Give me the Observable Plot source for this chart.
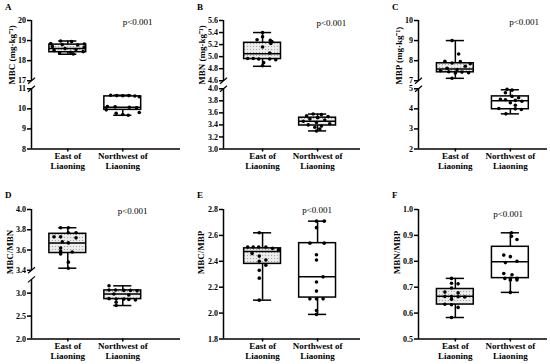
<!DOCTYPE html>
<html><head><meta charset="utf-8">
<script src="https://cdn.jsdelivr.net/npm/d3@7"></script>
<script src="https://cdn.jsdelivr.net/npm/@observablehq/plot@0.6"></script>
<style>
body{margin:0;background:#fff}
#fig{position:relative;width:550px;height:364px;overflow:hidden;background:#fff}
.panel{position:absolute}
</style>
</head><body><div id="fig"></div>
<script>
// ---------- data ----------
const categories = ["East of Liaoning", "Northwest of Liaoning"];
const panelLetters = ["A", "B", "C", "D", "E", "F"];
const yLabels = ["MBC (mg·kg⁻¹)", "MBN (mg·kg⁻¹)", "MBP (mg·kg⁻¹)", "MBC/MBN", "MBC/MBP", "MBN/MBP"];
const pLabel = "p<0.001";

// tick labels
const ticksA = [8, 9, 10, 11, 17, 18, 19, 20];
const ticksB = [3.0, 3.2, 3.4, 3.6, 3.8, 4.0, 4.6, 4.8, 5.0, 5.2, 5.4, 5.6];
const ticksC = [2, 3, 4, 5, 7, 8, 9, 10];
const ticksD = [2.0, 2.5, 3.0, 3.4, 3.6, 3.8, 4.0];
const ticksE = [1.8, 2.0, 2.2, 2.4, 2.6, 2.8];
const ticksF = [0.5, 0.6, 0.7, 0.8, 0.9, 1.0];

// box summaries [min, q1, median, q3, max]
const mbcEastBox = [18.32, 18.42, 18.60, 18.80, 18.98];
const mbcNwBox   = [9.68, 9.95, 10.08, 10.62, 10.68];
const mbnEastBox = [4.84, 4.96, 5.05, 5.23, 5.40];
const mbnNwBox   = [3.30, 3.39, 3.46, 3.52, 3.58];
const mbpEastBox = [7.12, 7.42, 7.58, 7.87, 9.00];
const mbpNwBox   = [3.75, 3.98, 4.40, 4.62, 4.95];
const cnEastBox  = [3.42, 3.57, 3.67, 3.76, 3.82];
const cnNwBox    = [2.73, 2.87, 2.98, 3.06, 3.16];
const cpEastBox  = [2.10, 2.38, 2.475, 2.50, 2.62];
const cpNwBox    = [1.99, 2.12, 2.28, 2.54, 2.71];
const npEastBox  = [0.583, 0.633, 0.665, 0.693, 0.734];
const npNwBox    = [0.68, 0.735, 0.798, 0.856, 0.91];

// individual samples and their horizontal scatter (category units)
const mbcEast = [18.98, 18.95, 18.85, 18.83, 18.80, 18.78, 18.70, 18.65, 18.60, 18.55, 18.50, 18.45, 18.42, 18.38, 18.33];
const mbcEastJit = [-0.13, 0.07, -0.31, 0.30, -0.10, 0.18, -0.28, 0.30, -0.05, 0.15, -0.25, 0.28, 0.05, -0.15, 0.10];
const mbcNw = [10.68, 10.66, 10.65, 10.66, 10.64, 10.60, 10.12, 10.10, 10.08, 10.05, 9.95, 9.82, 9.78, 9.72, 9.68];
const mbcNwJit = [-0.22, -0.11, 0, 0.11, 0.22, 0.30, -0.28, -0.14, 0.12, 0.25, -0.30, 0.30, -0.12, 0, 0.10];

const mbnEast = [5.40, 5.33, 5.28, 5.27, 5.25, 5.22, 5.16, 5.06, 4.97, 4.97, 4.96, 4.96, 4.95, 4.90, 4.85];
const mbnEastJit = [0, 0, -0.10, 0.14, 0.17, 0.15, 0, 0.13, -0.27, -0.17, -0.07, 0.13, 0.24, 0.02, 0];
const mbnNw = [3.58, 3.57, 3.55, 3.54, 3.52, 3.50, 3.48, 3.46, 3.44, 3.42, 3.40, 3.38, 3.36, 3.33, 3.30];
const mbnNwJit = [-0.08, 0.07, -0.20, 0.19, 0, -0.14, 0.13, -0.26, -0.02, 0.22, -0.17, 0.07, -0.05, 0.04, -0.02];

const mbpEast = [9.00, 8.33, 7.97, 7.95, 7.88, 7.85, 7.72, 7.62, 7.55, 7.50, 7.45, 7.43, 7.40, 7.38, 7.12];
const mbpEastJit = [-0.06, 0.06, -0.19, 0.09, -0.06, 0.27, 0.18, -0.15, 0.03, -0.27, -0.12, 0.12, 0.24, 0, -0.06];
const mbpNw = [4.97, 4.93, 4.80, 4.62, 4.55, 4.47, 4.45, 4.42, 4.38, 4.30, 4.18, 4.02, 4.00, 3.97, 3.75];
const mbpNwJit = [-0.06, 0.03, -0.09, 0.03, 0.15, -0.18, -0.09, 0.09, 0.21, 0, 0.09, -0.21, 0.09, 0.20, -0.08];

const cnEast = [3.82, 3.82, 3.77, 3.77, 3.73, 3.73, 3.72, 3.68, 3.67, 3.62, 3.59, 3.58, 3.56, 3.48, 3.42];
const cnEastJit = [-0.13, 0.01, 0.01, 0.15, -0.25, -0.13, 0.15, -0.10, 0.01, -0.13, -0.13, 0.08, -0.13, 0.01, 0.01];
const cnNw = [3.16, 3.07, 3.07, 3.06, 3.06, 3.05, 2.98, 2.96, 2.88, 2.87, 2.87, 2.86, 2.85, 2.80, 2.73];
const cnNwJit = [-0.25, -0.25, -0.13, 0.02, 0.14, 0.26, -0.16, 0.11, -0.25, -0.12, 0.02, 0.11, 0.23, -0.12, -0.12];

const cpEast = [2.62, 2.51, 2.51, 2.51, 2.51, 2.50, 2.49, 2.46, 2.44, 2.41, 2.40, 2.37, 2.33, 2.27, 2.10];
const cpEastJit = [-0.06, -0.27, -0.17, -0.07, 0.06, 0.18, 0.29, -0.19, -0.06, 0.06, -0.06, 0.06, -0.06, -0.06, -0.06];
const cpNw = [2.71, 2.71, 2.66, 2.54, 2.54, 2.45, 2.41, 2.28, 2.24, 2.17, 2.11, 2.11, 2.11, 2.02, 1.99];
const cpNwJit = [-0.02, 0.12, -0.02, -0.14, 0.12, -0.02, -0.02, 0.10, -0.02, -0.02, -0.14, -0.02, 0.10, -0.02, -0.02];

const npEast = [0.734, 0.715, 0.713, 0.697, 0.681, 0.678, 0.664, 0.664, 0.663, 0.662, 0.653, 0.634, 0.632, 0.622, 0.583];
const npEastJit = [-0.07, -0.07, 0.05, -0.07, -0.19, 0.05, -0.19, -0.07, 0.05, 0.17, -0.07, -0.19, -0.07, 0.05, -0.07];
const npNw = [0.910, 0.897, 0.884, 0.824, 0.818, 0.800, 0.795, 0.753, 0.748, 0.734, 0.734, 0.734, 0.728, 0.728, 0.680];
const npNwJit = [0.02, 0.02, 0.12, -0.12, 0, 0.12, -0.09, -0.12, 0.03, -0.10, 0, 0.12, 0, 0.12, 0];

// ---------- panel configuration (layout + axis breaks) ----------
const TOP = {top: 0, height: 182, mt: 20, mb: 33.5};
const BOT = {top: 182, height: 182, mt: 27, mb: 25.5};
const panels = [
  {row: TOP, left: 0,   ml: 31, mr: 4, x0: -0.66, x1: 2.05, ticks: ticksA, dec: 0, brk: {lowTop: 11, highBottom: 17, gap: 0.4, k: 1},
   east: [mbcEast, mbcEastJit, mbcEastBox], nw: [mbcNw, mbcNwJit, mbcNwBox], nwPattern: false, labelDx: -19, pX: 1.27, pDy: 2},
  {row: TOP, left: 183, ml: 40, mr: 7, x0: -0.71, x1: 1.78, ticks: ticksB, dec: 1, brk: {lowTop: 4.0, highBottom: 4.6, gap: 0.133, k: 1},
   east: [mbnEast, mbnEastJit, mbnEastBox], nw: [mbnNw, mbnNwJit, mbnNwBox], nwPattern: true, labelDx: -21.5, pX: 1.25, pDy: 2.5},
  {row: TOP, left: 366, ml: 52, mr: 3, x0: -0.67, x1: 1.675, ticks: ticksC, dec: 0, brk: {lowTop: 5, highBottom: 7, gap: 0.4, k: 1},
   east: [mbpEast, mbpEastJit, mbpEastBox], nw: [mbpNw, mbpNwJit, mbpNwBox], nwPattern: false, labelDx: -19, pX: 1.25, pDy: 2},
  {row: BOT, left: 0,   ml: 31, mr: 4, x0: -0.66, x1: 2.05, ticks: ticksD, dec: 1, brk: {lowTop: 3.3, highBottom: 3.4, gap: 0.2, k: 2.208},
   east: [cnEast, cnEastJit, cnEastBox], nw: [cnNw, cnNwJit, cnNwBox], nwPattern: true, labelDx: -21.5, pX: 1.18, pDy: 2},
  {row: BOT, left: 183, ml: 40, mr: 7, x0: -0.71, x1: 1.78, ticks: ticksE, dec: 1, brk: null,
   east: [cpEast, cpEastJit, cpEastBox], nw: [cpNw, cpNwJit, cpNwBox], nwPattern: false, labelDx: -22.5, pX: 0.99, pDy: 1},
  {row: BOT, left: 366, ml: 52, mr: 3, x0: -0.67, x1: 1.675, ticks: ticksF, dec: 1, brk: null,
   east: [npEast, npEastJit, npEastBox], nw: [npNw, npNwJit, npNwBox], nwPattern: false, labelDx: -21.5, pX: 0.96, pDy: 5}
];

const FONT = "'Liberation Serif', 'Times New Roman', Times, serif";
const fig = document.getElementById("fig");
const HALF_BOX = 0.335, HALF_CAP = 0.165;

panels.forEach((cfg, idx) => {
  const b = cfg.brk;
  const f = b ? (v => v <= b.lowTop ? v : b.lowTop + b.gap + (v - b.highBottom) * b.k) : (v => v);
  const inv = b ? (d => d <= b.lowTop + 1e-9 ? d : b.highBottom + (d - b.lowTop - b.gap) / b.k) : (d => d);
  const W = 184, H = cfg.row.height;
  const dMin = f(cfg.ticks[0]), dMax = f(cfg.ticks[cfg.ticks.length - 1]);
  const pxY = (H - cfg.row.mt - cfg.row.mb) / (dMax - dMin);
  const pxX = (W - cfg.ml - cfg.mr) / (cfg.x1 - cfg.x0);
  const patId = "dots" + idx;

  const groups = [cfg.east, cfg.nw];
  const points = [];
  groups.forEach((g, i) => g[0].forEach((v, j) => points.push({i, v, j: g[1][j]})));
  const boxes = groups.map((g, i) => ({i, min: g[2][0], q1: g[2][1], med: g[2][2], q3: g[2][3], max: g[2][4],
    pattern: i === 0 || cfg.nwPattern}));
  const caps = boxes.flatMap(d => [{i: d.i, y: d.min}, {i: d.i, y: d.max}]);
  const segs = b ? [[dMin, b.lowTop], [f(b.highBottom), dMax]] : [[dMin, dMax]];
  const slashes = b ? [b.lowTop, f(b.highBottom)] : [];
  const sx = 3.5 / pxX, sy = 3 / pxY;

  const plot = Plot.plot({
    width: W, height: H,
    marginLeft: cfg.ml, marginRight: cfg.mr, marginTop: cfg.row.mt, marginBottom: cfg.row.mb,
    x: {domain: [cfg.x0, cfg.x1]},
    y: {domain: [dMin, dMax]},
    style: {fontFamily: FONT, fontSize: "9px", color: "#000", background: "transparent", overflow: "visible"},
    marks: [
      // axis lines (with break)
      Plot.ruleX(segs, {x: cfg.x0, y1: d => d[0], y2: d => d[1], stroke: "#000", strokeWidth: 1.5}),
      Plot.link(slashes, {x1: cfg.x0 - sx, x2: cfg.x0 + sx, y1: d => d - sy, y2: d => d + sy, stroke: "#000", strokeWidth: 1.2}),
      Plot.ruleY([dMin], {stroke: "#000", strokeWidth: 1.5}),
      Plot.axisY(cfg.ticks.map(f), {tickFormat: d => inv(d).toFixed(cfg.dec), tickSize: 4, tickPadding: 1.5,
        strokeWidth: 1.5, fontWeight: "bold", fontSize: 8, label: null}),
      Plot.axisX([0, 1], {tickFormat: d => categories[d].replace(" Liaoning", "\nLiaoning"), tickSize: 3, tickPadding: 0,
        strokeWidth: 1.5, fontWeight: "bold", fontSize: 9, lineHeight: 1.1, label: null}),
      // whiskers
      Plot.ruleX(boxes, {x: "i", y1: d => f(d.min), y2: d => f(d.max), stroke: "#000", strokeWidth: 1.5}),
      Plot.ruleY(caps, {y: d => f(d.y), x1: d => d.i - HALF_CAP, x2: d => d.i + HALF_CAP, stroke: "#000", strokeWidth: 1.5}),
      // boxes
      Plot.rect(boxes.filter(d => d.pattern), {x1: d => d.i - HALF_BOX, x2: d => d.i + HALF_BOX, y1: d => f(d.q1), y2: d => f(d.q3),
        fill: `url(#${patId})`, stroke: "#000", strokeWidth: 1.5}),
      Plot.rect(boxes.filter(d => !d.pattern), {x1: d => d.i - HALF_BOX, x2: d => d.i + HALF_BOX, y1: d => f(d.q1), y2: d => f(d.q3),
        fill: "#fff", stroke: "#000", strokeWidth: 1.5}),
      Plot.ruleY(boxes, {y: d => f(d.med), x1: d => d.i - HALF_BOX, x2: d => d.i + HALF_BOX, stroke: "#000", strokeWidth: 1.5}),
      // points
      Plot.dot(points, {x: d => d.i + d.j, y: d => f(d.v), r: 1.8, fill: "#000", stroke: "none"}),
      // texts
      Plot.text([yLabels[idx]], {frameAnchor: "left", rotate: -90, dx: cfg.labelDx, fontWeight: "bold", fontSize: 9}),
      Plot.text([panelLetters[idx]], {frameAnchor: "top-left", textAnchor: "start", lineAnchor: "middle",
        dx: -26.5, dy: cfg.row === TOP ? -13 : -14, fontWeight: "bold", fontSize: 9}),
      Plot.text([pLabel], {x: cfg.pX, frameAnchor: "top", lineAnchor: "middle", dy: cfg.pDy, fontSize: 9})
    ]
  });

  // dotted fill pattern for the boxes
  const ns = "http://www.w3.org/2000/svg";
  const defs = document.createElementNS(ns, "defs");
  const pat = document.createElementNS(ns, "pattern");
  pat.setAttribute("id", patId);
  pat.setAttribute("width", "3"); pat.setAttribute("height", "3");
  pat.setAttribute("patternUnits", "userSpaceOnUse");
  const bg = document.createElementNS(ns, "rect");
  bg.setAttribute("width", "3"); bg.setAttribute("height", "3"); bg.setAttribute("fill", "#ececec");
  const dot = document.createElementNS(ns, "circle");
  dot.setAttribute("cx", "1.5"); dot.setAttribute("cy", "1.5"); dot.setAttribute("r", "0.6"); dot.setAttribute("fill", "#999");
  pat.appendChild(bg); pat.appendChild(dot); defs.appendChild(pat);
  plot.insertBefore(defs, plot.firstChild);

  const wrap = document.createElement("div");
  wrap.className = "panel";
  wrap.style.left = cfg.left + "px";
  wrap.style.top = cfg.row.top + "px";
  wrap.appendChild(plot);
  fig.appendChild(wrap);
});
</script>
</body></html>
